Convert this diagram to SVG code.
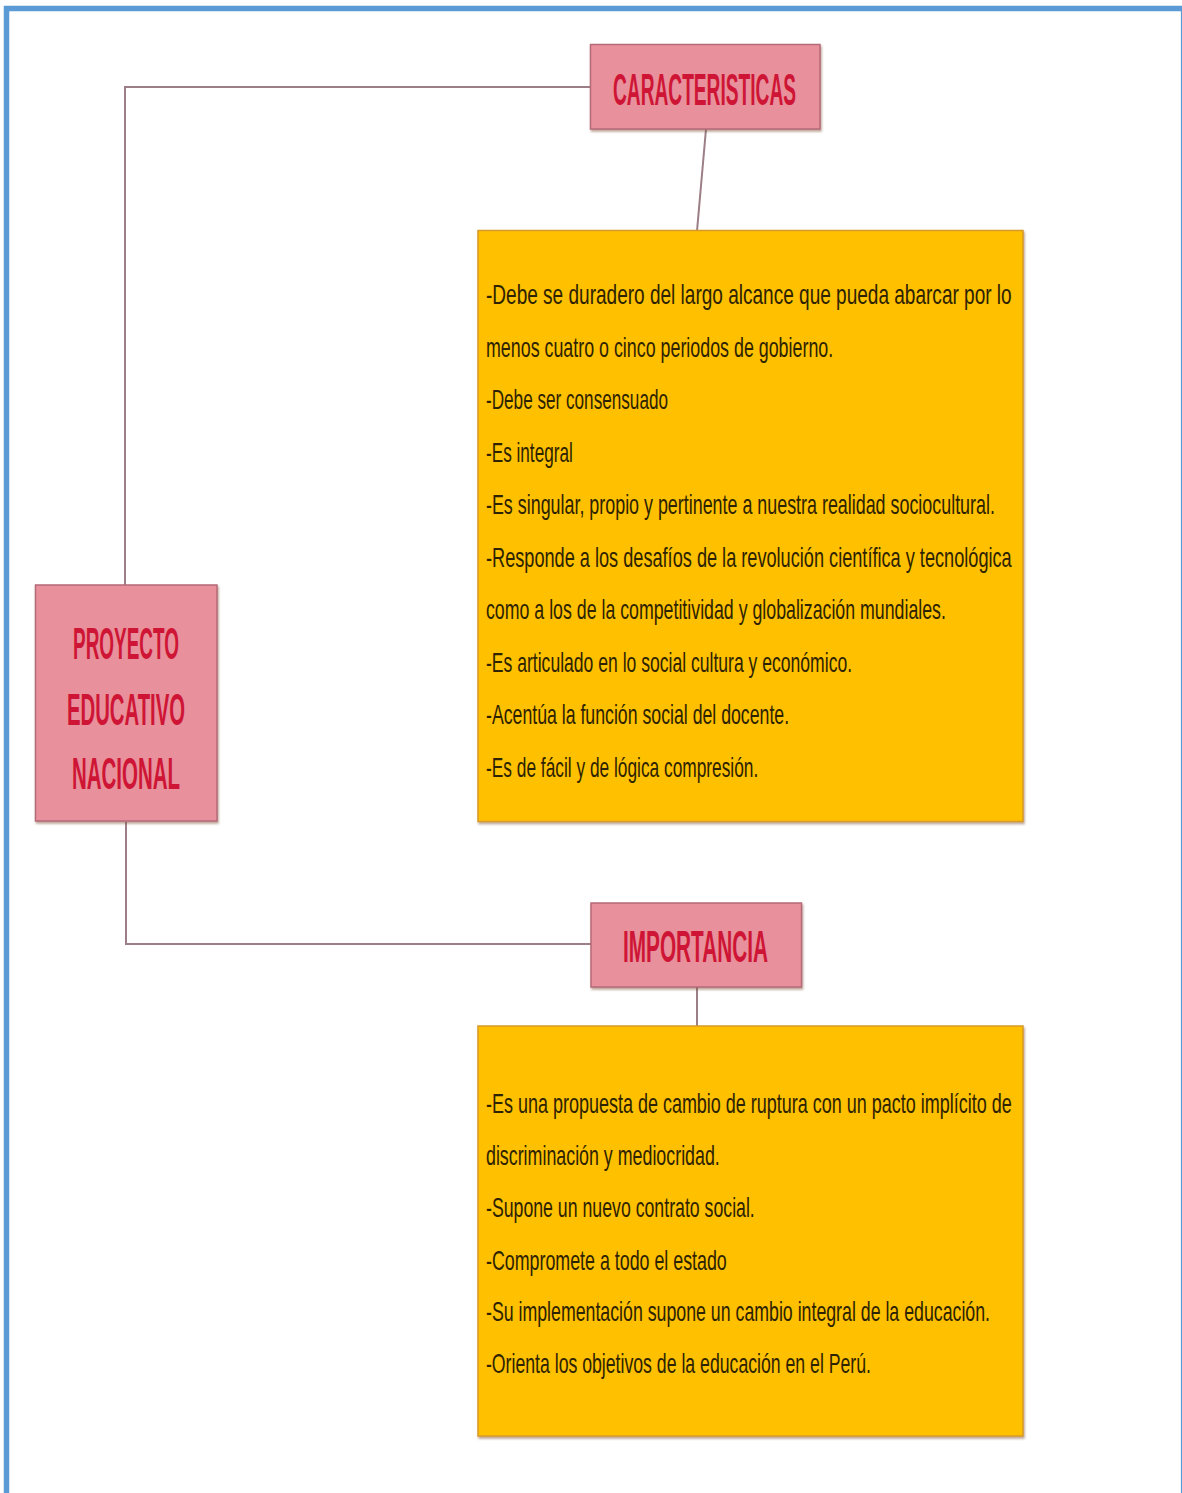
<svg xmlns="http://www.w3.org/2000/svg" width="1182" height="1493" viewBox="0 0 1182 1493">
<defs>
<filter id="sh" x="-5%" y="-5%" width="110%" height="110%">
<feDropShadow dx="1" dy="2" stdDeviation="1.2" flood-color="#7a4a30" flood-opacity="0.5"/>
</filter>
<style>
.frame{fill:none;stroke:#5B9BD5}
.conn{fill:none;stroke:#9C7F86;stroke-width:2}
.pink{fill:#E8909B;stroke:#B56A78;stroke-width:1.5}
.yel{fill:#FFC000;stroke:#D89A28;stroke-width:1.5}
.title{font-family:"Liberation Sans",Arial,sans-serif;font-weight:bold;font-size:44px;fill:#CF1535;text-anchor:middle}
.body{font-family:"Liberation Sans",Arial,sans-serif;font-size:27px;fill:#2E2300}
</style>
</defs>
<rect width="1182" height="1493" fill="#ffffff"/>
<g id="frame">
<path class="frame" d="M6.5 1493 V8.5 H1182" stroke-width="5.5"/>
<line class="frame" x1="1181.5" y1="8" x2="1181.5" y2="1493" stroke-width="1.2"/>
</g>
<g id="connectors">
<path class="conn" d="M590 87 H125 V585"/>
<path class="conn" d="M126 822 V944 H591"/>
<line class="conn" x1="706" y1="129" x2="697" y2="231"/>
<line class="conn" x1="697" y1="987" x2="697" y2="1026"/>
</g>
<g id="caracteristicas">
<rect class="pink" x="590.5" y="44.5" width="229.5" height="84.5" filter="url(#sh)"/>
<g transform="matrix(0.5 0 0 1 352.25 0)">
<text class="title" x="704.5" y="105" textLength="366" lengthAdjust="spacingAndGlyphs">CARACTERISTICAS</text>
</g>
</g>
<g id="proyecto">
<rect class="pink" x="35.5" y="585" width="181.5" height="236" filter="url(#sh)"/>
<g transform="matrix(0.5 0 0 1 63 0)">
<text class="title" x="126" y="659" textLength="212" lengthAdjust="spacingAndGlyphs">PROYECTO</text>
<text class="title" x="126" y="725" textLength="236" lengthAdjust="spacingAndGlyphs">EDUCATIVO</text>
<text class="title" x="126" y="789" textLength="216" lengthAdjust="spacingAndGlyphs">NACIONAL</text>
</g>
</g>
<g id="importancia">
<rect class="pink" x="591" y="903" width="210.5" height="84" filter="url(#sh)"/>
<g transform="matrix(0.5 0 0 1 347.75 0)">
<text class="title" x="695.5" y="962" textLength="290" lengthAdjust="spacingAndGlyphs">IMPORTANCIA</text>
</g>
</g>
<g id="caracteristicas-list">
<rect class="yel" x="478" y="230.5" width="545" height="591" filter="url(#sh)"/>
<g transform="matrix(0.7 0 0 1 145.8 0)">
<text class="body" x="486" y="304" textLength="751" lengthAdjust="spacingAndGlyphs">-Debe se duradero del largo alcance que pueda abarcar por lo</text>
<text class="body" x="486" y="357" textLength="496" lengthAdjust="spacingAndGlyphs">menos cuatro o cinco periodos de gobierno.</text>
<text class="body" x="486" y="409" textLength="260" lengthAdjust="spacingAndGlyphs">-Debe ser consensuado</text>
<text class="body" x="486" y="462" textLength="124" lengthAdjust="spacingAndGlyphs">-Es integral</text>
<text class="body" x="486" y="514" textLength="727" lengthAdjust="spacingAndGlyphs">-Es singular, propio y pertinente a nuestra realidad sociocultural.</text>
<text class="body" x="486" y="567" textLength="751" lengthAdjust="spacingAndGlyphs">-Responde a los desafíos de la revolución científica y tecnológica</text>
<text class="body" x="486" y="619" textLength="657" lengthAdjust="spacingAndGlyphs">como a los de la competitividad y globalización mundiales.</text>
<text class="body" x="486" y="672" textLength="523" lengthAdjust="spacingAndGlyphs">-Es articulado en lo social cultura y económico.</text>
<text class="body" x="486" y="724" textLength="433" lengthAdjust="spacingAndGlyphs">-Acentúa la función social del docente.</text>
<text class="body" x="486" y="777" textLength="389" lengthAdjust="spacingAndGlyphs">-Es de fácil y de lógica compresión.</text>
</g>
</g>
<g id="importancia-list">
<rect class="yel" x="478" y="1026" width="545" height="410" filter="url(#sh)"/>
<g transform="matrix(0.7 0 0 1 145.8 0)">
<text class="body" x="486" y="1113" textLength="751" lengthAdjust="spacingAndGlyphs">-Es una propuesta de cambio de ruptura con un pacto implícito de</text>
<text class="body" x="486" y="1165" textLength="334" lengthAdjust="spacingAndGlyphs">discriminación y mediocridad.</text>
<text class="body" x="486" y="1217" textLength="384" lengthAdjust="spacingAndGlyphs">-Supone un nuevo contrato social.</text>
<text class="body" x="486" y="1270" textLength="344" lengthAdjust="spacingAndGlyphs">-Compromete  a todo el estado</text>
<text class="body" x="486" y="1321" textLength="720" lengthAdjust="spacingAndGlyphs">-Su implementación supone un cambio integral de la educación.</text>
<text class="body" x="486" y="1373" textLength="550" lengthAdjust="spacingAndGlyphs">-Orienta los objetivos de la educación en el Perú.</text>
</g>
</g>
</svg>
